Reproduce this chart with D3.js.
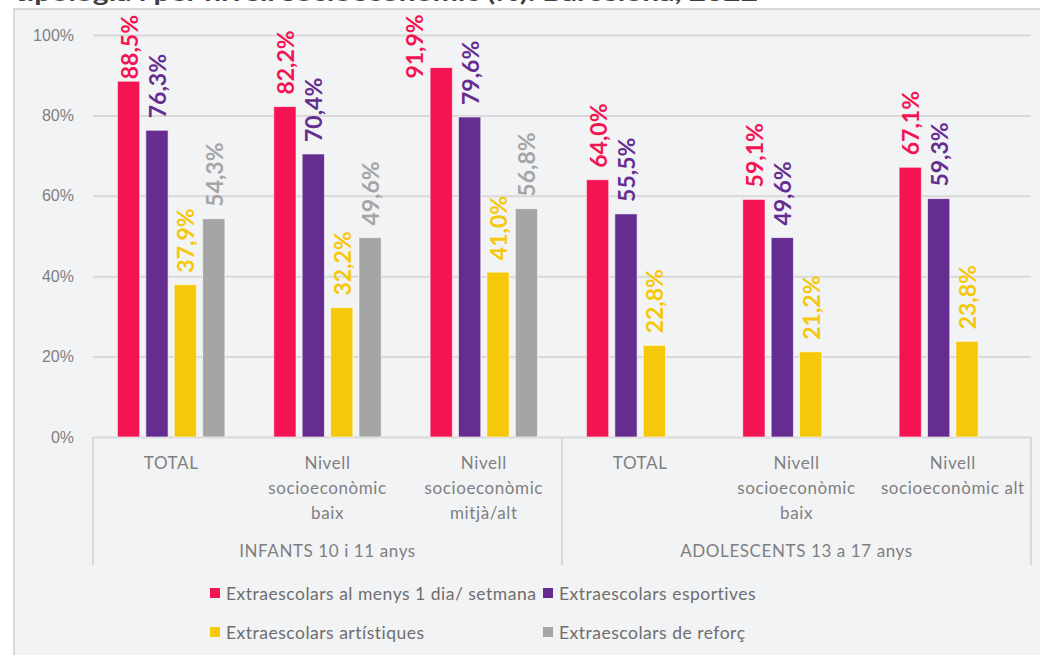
<!DOCTYPE html>
<html>
<head>
<meta charset="UTF-8">
<script src="https://cdn.jsdelivr.net/npm/d3@7/dist/d3.min.js"></script>
<style>
  body { margin: 0; background: #fff; font-family: Lato, "Open Sans", sans-serif; }
  #chart { width: 1040px; height: 655px; overflow: hidden; }
  .tick-label { font-size: 16px; fill: #7f7f7f; }
  .cat-label { font-size: 17px; fill: #7f7f7f; letter-spacing: 0.6px; }
  .legend-label { font-size: 17.5px; fill: #6e6e6e; letter-spacing: 0.5px; }
  .value-label { font-size: 23px; font-weight: 700; }
</style>
</head>
<body>
<div id="chart"></div>
<script>
// ---- data ----
const title = 'tipologia i per nivell socioeconòmic (%). Barcelona, 2022';
const groups = ['INFANTS 10 i 11 anys', 'ADOLESCENTS 13 a 17 anys'];
const categories = [
  'TOTAL', 'Nivell\nsocioeconòmic\nbaix', 'Nivell\nsocioeconòmic\nmitjà/alt',
  'TOTAL', 'Nivell\nsocioeconòmic\nbaix', 'Nivell\nsocioeconòmic alt'
];
const categoryGroup = [0, 0, 0, 1, 1, 1];
const seriesNames = [
  'Extraescolars al menys 1 dia/ setmana',
  'Extraescolars esportives',
  'Extraescolars artístiques',
  'Extraescolars de reforç'
];
const setmana = [88.5, 82.2, 91.9, 64.0, 59.1, 67.1];
const esportives = [76.3, 70.4, 79.6, 55.5, 49.6, 59.3];
const artistiques = [37.9, 32.2, 41.0, 22.8, 21.2, 23.8];
const reforc = [54.3, 49.6, 56.8, null, null, null];
const yTicks = [0, 20, 40, 60, 80, 100];

const colors = ['#f41452', '#662d91', '#f5c80a', '#a5a5a5'];
const seriesValues = [setmana, esportives, artistiques, reforc];

// a couple of labels were moved by hand in the original
const labelNudge = { '0-0': [0, 10], '0-2': [-27, 23] };

const W = 1040, H = 655;
const plot = { left: 93, right: 1031, top: 35, bottom: 437 };

const svg = d3.select('#chart').append('svg')
  .attr('width', W).attr('height', H);

// title, cut off at the top in the original
svg.append('text')
  .attr('x', 15).attr('y', 1)
  .attr('font-size', 22).attr('font-weight', 700)
  .attr('fill', '#404040')
  .attr('textLength', 743).attr('lengthAdjust', 'spacingAndGlyphs')
  .text(title);

// chart panel
svg.append('rect')
  .attr('x', 14).attr('y', 9)
  .attr('width', W + 20).attr('height', H + 20)
  .attr('fill', '#f2f3f5')
  .attr('stroke', '#d9d9d9').attr('stroke-width', 2);

const catIds = categories.map((c, i) => i);

const y = d3.scaleLinear().domain([0, 100]).range([plot.bottom, plot.top]);
const x0 = d3.scaleBand().domain(catIds).range([plot.left, plot.right]);
const x1 = d3.scaleBand().domain(d3.range(seriesNames.length))
  .range([0, x0.bandwidth()])
  .paddingInner(0.215).paddingOuter(0.86);

// gridlines + y labels
const yAxis = d3.axisLeft(y).tickValues(yTicks)
  .tickSize(-(plot.right - plot.left))
  .tickPadding(19)
  .tickFormat(d => d + '%');

const gy = svg.append('g')
  .attr('transform', `translate(${plot.left},0)`)
  .call(yAxis);
gy.select('.domain').remove();
gy.selectAll('.tick line').attr('stroke', '#d9d9d9').attr('stroke-width', 2);
gy.selectAll('.tick text').attr('class', 'tick-label').attr('font-family', null).attr('font-size', null);

// category axis lines
const groupEdges = [plot.left, x0(3), plot.right];
svg.selectAll('.group-edge')
  .data(groupEdges)
  .enter().append('line')
  .attr('x1', d => d).attr('x2', d => d)
  .attr('y1', plot.bottom).attr('y2', 565)
  .attr('stroke', '#d9d9d9').attr('stroke-width', 2);

// bars
const fmt = d => d3.format('.1f')(d).replace('.', ',') + '%';

const cells = [];
seriesValues.forEach((vals, s) => {
  vals.forEach((v, c) => {
    if (v != null) cells.push({ s, c, v });
  });
});

svg.selectAll('.bar')
  .data(cells)
  .enter().append('rect')
  .attr('class', 'bar')
  .attr('x', d => x0(d.c) + x1(d.s))
  .attr('y', d => y(d.v))
  .attr('width', x1.bandwidth())
  .attr('height', d => y(0) - y(d.v))
  .attr('fill', d => colors[d.s])
  .attr('stroke', '#ffffff').attr('stroke-opacity', 0.6).attr('stroke-width', 1);

svg.selectAll('.value-label')
  .data(cells)
  .enter().append('text')
  .attr('class', 'value-label')
  .attr('fill', d => colors[d.s])
  .attr('text-anchor', 'start')
  .attr('dominant-baseline', 'central')
  .attr('transform', d => {
    const n = labelNudge[d.s + '-' + d.c] || [0, 0];
    const cx = x0(d.c) + x1(d.s) + x1.bandwidth() / 2 + n[0];
    const cy = y(d.v) - 12 + n[1];
    return `translate(${cx},${cy}) rotate(-90)`;
  })
  .text(d => fmt(d.v));

// category labels
const catText = svg.selectAll('.cat')
  .data(catIds)
  .enter().append('text')
  .attr('class', 'cat-label')
  .attr('text-anchor', 'middle')
  .attr('x', d => x0(d) + x0.bandwidth() / 2)
  .attr('y', 469);
catText.each(function(d) {
  const lines = categories[d].split('\n');
  d3.select(this).selectAll('tspan')
    .data(lines).enter().append('tspan')
    .attr('x', x0(d) + x0.bandwidth() / 2)
    .attr('dy', (l, i) => i === 0 ? 0 : 25)
    .text(l => l);
});

// group labels
svg.selectAll('.group-label')
  .data(groups)
  .enter().append('text')
  .attr('class', 'cat-label')
  .attr('text-anchor', 'middle')
  .attr('x', (g, i) => (groupEdges[i] + groupEdges[i + 1]) / 2)
  .attr('y', 557)
  .text(g => g);

// legend
const legendPos = [[210, 593], [543, 593], [210, 632], [543, 632]];
const lg = svg.selectAll('.legend')
  .data(seriesNames)
  .enter().append('g')
  .attr('transform', (d, i) => `translate(${legendPos[i][0]},${legendPos[i][1]})`);
lg.append('rect')
  .attr('x', 0).attr('y', -5)
  .attr('width', 10).attr('height', 10)
  .attr('fill', (d, i) => colors[i]);
lg.append('text')
  .attr('class', 'legend-label')
  .attr('x', 16).attr('y', 0)
  .attr('dominant-baseline', 'central')
  .text(d => d);
</script>
</body>
</html>
